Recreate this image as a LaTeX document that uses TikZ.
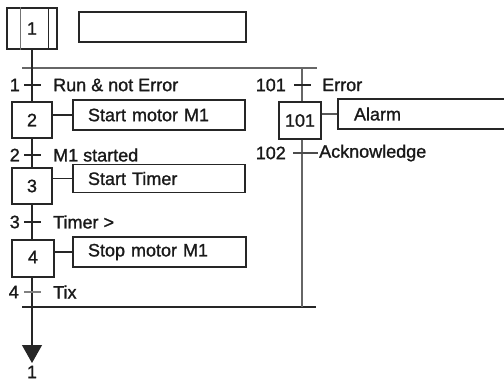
\documentclass[tikz,border=0pt]{standalone}
\usepackage{fontspec}
\setmainfont{Liberation Sans}[BoldFont=Liberation Sans, BoldFeatures={FakeBold=1.2}]
\usetikzlibrary{arrows.meta}
\begin{document}
\begin{tikzpicture}[x=1pt,y=-1pt,
  ln/.style={line width=1.2pt, draw=black!85},
  stepbox/.style={ln, rectangle, inner sep=0pt, minimum width=40pt, minimum height=36pt, font=\fontsize{18}{20}\selectfont\bfseries, text=black!90},
  actbox/.style={ln, rectangle, inner ysep=0pt, inner xsep=15pt, minimum height=30pt, text width=#1-30pt, align=left, font=\fontsize{18}{20}\selectfont\bfseries, text=black!90},
  tlab/.style={inner sep=0pt, font=\fontsize{18}{20}\selectfont\bfseries, text=black!90},
  tick/.style={ln}]
\useasboundingbox (0,0) rectangle (504,381);
\clip (0,0) rectangle (504,381);
% initial step
\node[stepbox, minimum width=50pt, minimum height=41pt] (s1) at (32,28.5) {1};
\draw[ln, draw=black!55] ([xshift=14pt]s1.north west) -- ([xshift=14pt]s1.south west);
\draw[ln] ([xshift=-9pt]s1.north east) -- ([xshift=-9pt]s1.south east);
\node[actbox=167pt] (a1) at (162.5,27) {};
% steps
\node[stepbox] (s2) at (32,120) {\raisebox{-4pt}{2}};
\node[stepbox] (s3) at (32,186) {\raisebox{-2pt}{3}};
\node[stepbox, minimum width=42pt, minimum height=37pt] (s4) at (33,258.5) {\raisebox{3pt}{4}};
\node[stepbox, minimum width=42pt, minimum height=37pt] (s101) at (300,120.5) {101};
% actions
\node[actbox=172pt] (a2) at (159,115) {Start motor M1};
\node[actbox=172pt, minimum height=28pt] (a3) at (159,178.5) {Start Timer};
\node[actbox=173pt] (a4) at (159.5,252) {Stop motor M1};
\node[actbox=180pt, inner xsep=16pt] (a101) at (429,114) {Alarm};
\draw[ln] (a2.west) -- (a2.west -| s2.east);
\draw[ln] (a3.west) -- (a3.west -| s3.east);
\draw[ln] (a4.west) -- (a4.west -| s4.east);
\draw[ln, draw=black!65] (a101.west) -- (a101.west -| s101.east);
% divergence / convergence lines
\coordinate (dl) at (22,68);
\coordinate (dr) at (317,68);
\coordinate (cl) at (22,307);
\coordinate (cr) at (316,307);
\coordinate (rtop) at (302,68);
\coordinate (rbot) at (302,307);
\draw[ln, draw=black!60] (dl) -- (dr);
\draw[ln] (cl) -- (cr);
% transitions
\coordinate (t1) at (32,85);
\coordinate (t2) at (32,155);
\coordinate (t3) at (32,222);
\coordinate (t4) at (32,292);
\coordinate (t101) at (302,85);
\coordinate (t102) at (302,153);
\coordinate (end) at (32,363);
% vertical links
\draw[ln] (s1.south) -- (s2.north);
\draw[ln] (s2.south) -- (s3.north);
\draw[ln] (s3.south) -- (s3.south |- s4.north);
\draw[ln, -{Triangle[width=20pt,length=18pt]}] (s4.south -| end) -- (end);
\draw[ln, draw=black!60] (rtop) -- (s101.north -| rtop);
\draw[ln, draw=black!60] (s101.south -| rtop) -- (rbot);
% ticks
\draw[tick] ([xshift=-8pt]t1) -- ([xshift=9pt]t1);
\draw[tick] ([xshift=-8pt]t2) -- ([xshift=9pt]t2);
\draw[tick] ([xshift=-8pt]t3) -- ([xshift=9pt]t3);
\draw[tick, draw=black!50] ([xshift=-8pt]t4) -- ([xshift=9pt]t4);
\draw[tick] ([xshift=-8pt]t101) -- ([xshift=9pt]t101);
\draw[tick, draw=black!70] ([xshift=-9pt]t102) -- ([xshift=16pt]t102);
% transition labels
\node[tlab, anchor=east] (n1) at (20,85) {1};
\node[tlab, anchor=east] (n2) at (20,155) {2};
\node[tlab, anchor=east] (n3) at (20,222) {3};
\node[tlab, anchor=east] (n4) at (19,292) {4};
\node[tlab, anchor=east] (n101) at (286,85) {101};
\node[tlab, anchor=east] (n102) at (286,153) {102};
\node[tlab, anchor=west] (c1) at (53,85) {Run \& not Error};
\node[tlab, anchor=west] (c2) at (53,155) {M1 started};
\node[tlab, anchor=west] (c3) at (53,222) {Timer >};
\node[tlab, anchor=west] (c4) at (53,292) {Tix};
\node[tlab, anchor=west] (c101) at (322,85) {Error};
\node[tlab, anchor=west] (c102) at (319,153) {Acknowledge};
\node[tlab] (ret) at (32,372) {1};
\end{tikzpicture}
\end{document}
